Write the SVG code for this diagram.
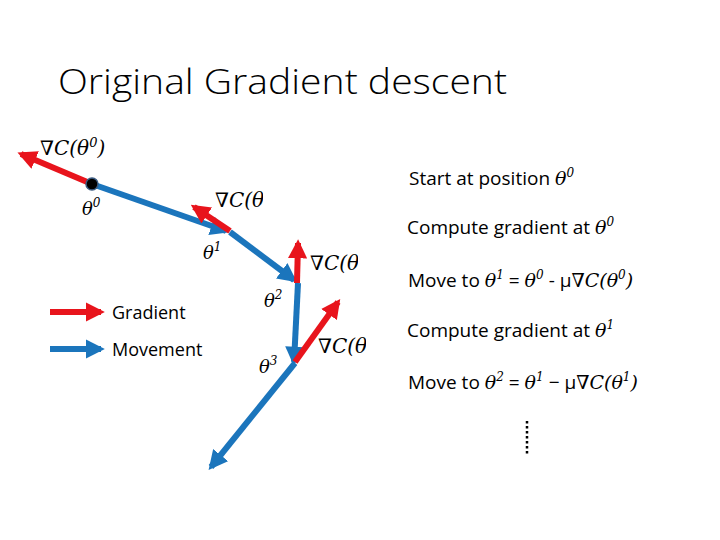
<svg xmlns="http://www.w3.org/2000/svg" width="720" height="540" viewBox="0 0 720 540">
<style>
.t{font-family:"Open Sans","Liberation Sans",sans-serif;fill:#000}
.m{font-family:"DejaVu Serif","Liberation Serif",serif;font-style:italic;fill:#000}
.r{stroke:#e8141c;stroke-width:6;fill:none}
.b{stroke:#1b75bc;stroke-width:6;fill:none}
</style>
<defs>
<marker id="ar" viewBox="0 0 10 10" refX="8" refY="5" markerWidth="3.2" markerHeight="3.2" orient="auto" markerUnits="strokeWidth"><path d="M0,0L10,5L0,10z" fill="#e8141c"/></marker>
<marker id="ab" viewBox="0 0 10 10" refX="8" refY="5" markerWidth="3.2" markerHeight="3.2" orient="auto" markerUnits="strokeWidth"><path d="M0,0L10,5L0,10z" fill="#1b75bc"/></marker>
<clipPath id="c1"><rect x="200" y="180" width="63" height="40"/></clipPath>
<clipPath id="c2"><rect x="300" y="240" width="58" height="40"/></clipPath>
<clipPath id="c3"><rect x="310" y="325" width="56" height="40"/></clipPath>
</defs>
<rect width="720" height="540" fill="#fff"/>
<text class="t" x="58" y="94" font-size="35" textLength="449" lengthAdjust="spacingAndGlyphs" font-weight="300">Original Gradient descent</text>
<g id="connectors">
<line class="b" x1="92" y1="184" x2="226" y2="231" marker-end="url(#ab)"/>
<line class="b" x1="230" y1="232" x2="294" y2="280" marker-end="url(#ab)"/>
<line class="b" x1="298" y1="283" x2="294" y2="362" marker-end="url(#ab)"/>
<line class="b" x1="295" y1="363" x2="211" y2="467" marker-end="url(#ab)"/>
<line class="r" x1="92" y1="184" x2="21" y2="154" marker-end="url(#ar)"/>
<line class="r" x1="230" y1="231" x2="194" y2="207" marker-end="url(#ar)"/>
<line class="r" x1="297" y1="283" x2="298" y2="243" marker-end="url(#ar)"/>
<line class="r" x1="295" y1="362" x2="338" y2="302" marker-end="url(#ar)"/>
<line class="r" x1="50" y1="312" x2="101" y2="312" marker-end="url(#ar)"/>
<line class="b" x1="50" y1="349" x2="101" y2="349" marker-end="url(#ab)"/>
</g>
<g id="theta0"><circle cx="92" cy="184" r="6" fill="#000" stroke="#3a5a80" stroke-width="1.5"/>
<text class="m" x="82" y="215" font-size="18">θ<tspan font-size="12" dy="-8">0</tspan></text></g>
<g id="grad0"><text class="m" x="40" y="155" font-size="20">∇C(θ<tspan font-size="13" dy="-8">0</tspan><tspan dy="8">)</tspan></text></g>
<g id="theta1"><text class="m" x="203" y="259" font-size="18">θ<tspan font-size="12" dy="-8">1</tspan></text></g>
<g id="grad1" clip-path="url(#c1)"><text class="m" x="215" y="207" font-size="20">∇C(θ<tspan font-size="13" dy="-8">1</tspan><tspan dy="8">)</tspan></text></g>
<g id="theta2"><text class="m" x="264" y="307" font-size="18">θ<tspan font-size="12" dy="-8">2</tspan></text></g>
<g id="grad2" clip-path="url(#c2)"><text class="m" x="310" y="270" font-size="20">∇C(θ<tspan font-size="13" dy="-8">2</tspan><tspan dy="8">)</tspan></text></g>
<g id="theta3"><text class="m" x="259" y="373" font-size="18">θ<tspan font-size="12" dy="-8">3</tspan></text></g>
<g id="grad3" clip-path="url(#c3)"><text class="m" x="318" y="353" font-size="20">∇C(θ<tspan font-size="13" dy="-8">3</tspan><tspan dy="8">)</tspan></text></g>
<g id="legend">
<text class="t" x="112" y="319" font-size="18">Gradient</text>
<text class="t" x="112" y="356" font-size="18">Movement</text>
</g>
<g id="steps" font-size="19">
<text class="t" x="409" y="185" font-size="19">Start at position <tspan class="m">θ<tspan font-size="12" dy="-8">0</tspan></tspan></text>
<text class="t" x="407" y="234" font-size="19">Compute gradient at <tspan class="m">θ<tspan font-size="12" dy="-8">0</tspan></tspan></text>
<text class="t" x="408" y="287" font-size="19">Move to <tspan class="m">θ<tspan font-size="12" dy="-8">1</tspan></tspan><tspan dy="8"> = </tspan><tspan class="m">θ<tspan font-size="12" dy="-8">0</tspan></tspan><tspan dy="8"> - μ</tspan><tspan class="m">∇C(θ<tspan font-size="12" dy="-8">0</tspan><tspan dy="8">)</tspan></tspan></text>
<text class="t" x="407" y="337" font-size="19">Compute gradient at <tspan class="m">θ<tspan font-size="12" dy="-8">1</tspan></tspan></text>
<text class="t" x="408" y="389" font-size="19">Move to <tspan class="m">θ<tspan font-size="12" dy="-8">2</tspan></tspan><tspan dy="8"> = </tspan><tspan class="m">θ<tspan font-size="12" dy="-8">1</tspan></tspan><tspan dy="8"> − μ</tspan><tspan class="m">∇C(θ<tspan font-size="12" dy="-8">1</tspan><tspan dy="8">)</tspan></tspan></text>
</g>
<line x1="527" y1="421" x2="527" y2="455" stroke="#000" stroke-width="2.5" stroke-dasharray="2.5 2.5"/>
</svg>
